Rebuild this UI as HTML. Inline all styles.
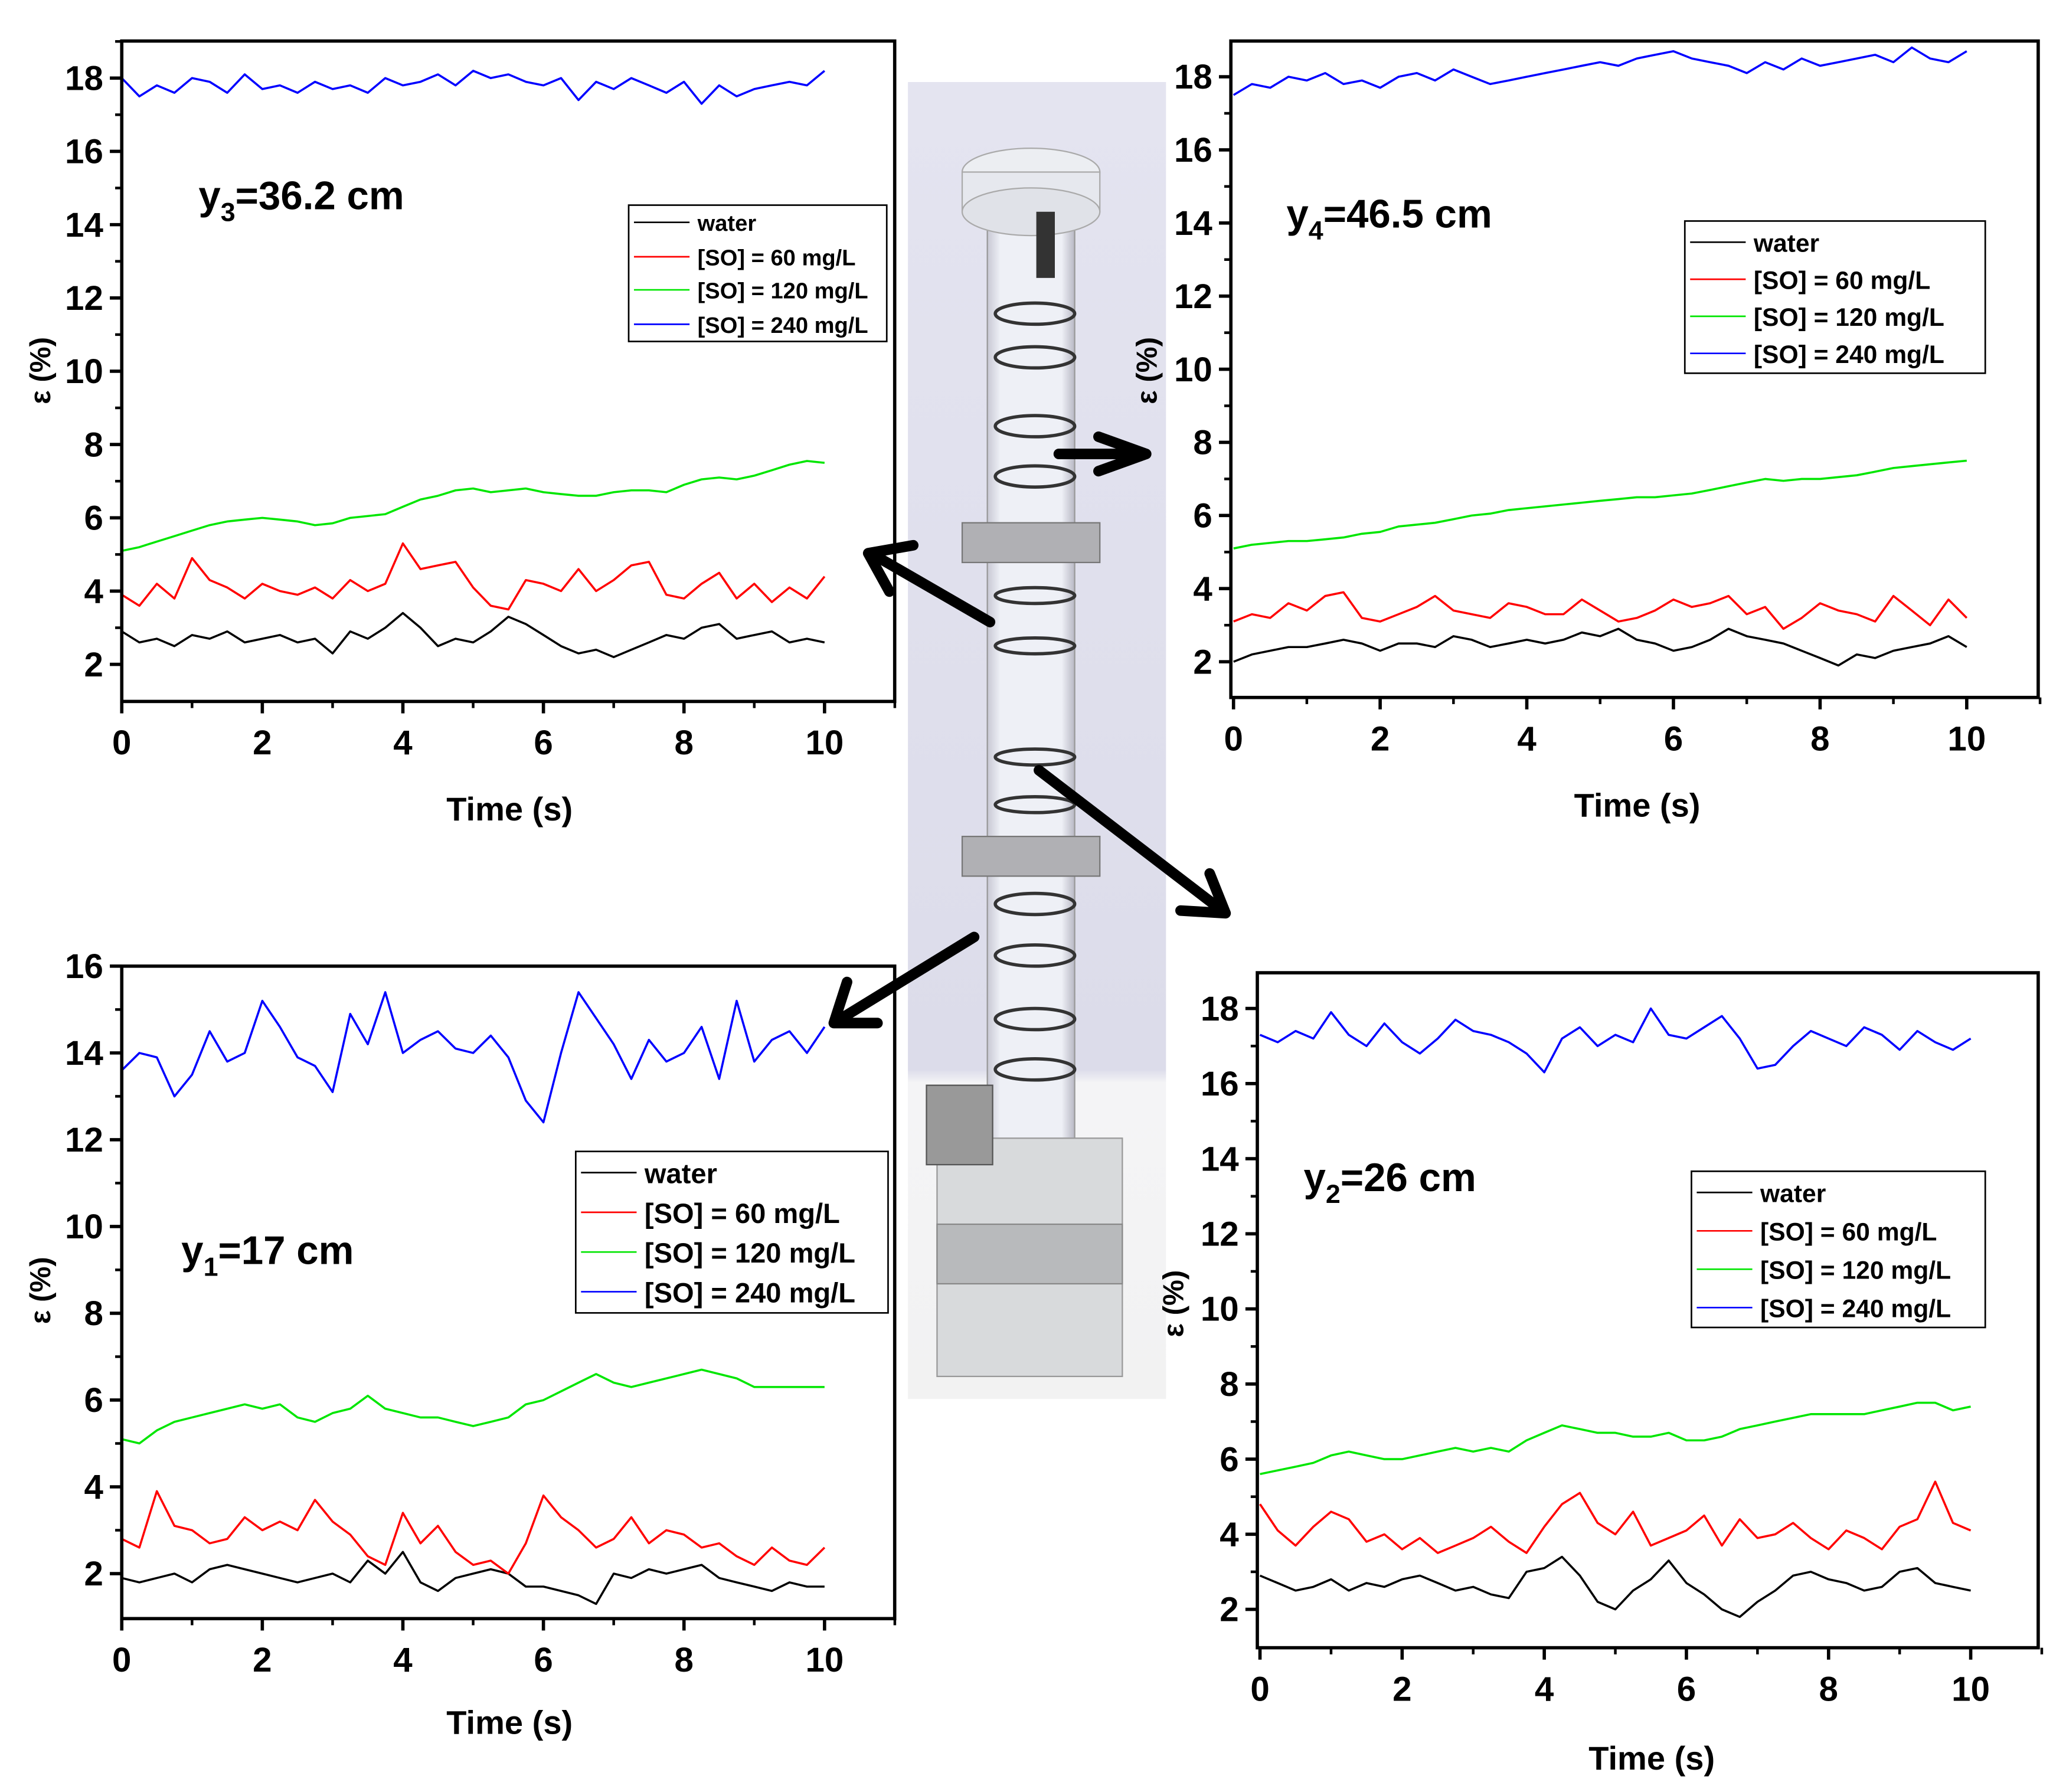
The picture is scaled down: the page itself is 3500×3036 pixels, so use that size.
<!DOCTYPE html>
<html><head><meta charset="utf-8"><style>
html,body{margin:0;padding:0;background:#fff;}
svg{display:block;font-family:"Liberation Sans",sans-serif;}
</style></head><body>
<svg id="fig" width="3500" height="3036" viewBox="0 0 1561 1354" preserveAspectRatio="none" xmlns="http://www.w3.org/2000/svg">
<defs>
<linearGradient id="bg" x1="0" y1="0" x2="0" y2="1"><stop offset="0" stop-color="#e4e4f0"/><stop offset="0.75" stop-color="#dcdcea"/><stop offset="0.76" stop-color="#f4f4f6"/><stop offset="1" stop-color="#f2f2f2"/></linearGradient>
<linearGradient id="tube" x1="0" y1="0" x2="1" y2="0"><stop offset="0" stop-color="#c8c8d4"/><stop offset="0.15" stop-color="#eef0f6"/><stop offset="0.85" stop-color="#eef0f6"/><stop offset="1" stop-color="#b8b8c4"/></linearGradient>
</defs>
<g id="photo">
<rect x="686" y="62" width="195" height="995" fill="url(#bg)"/>
<rect x="746" y="170" width="66" height="720" fill="url(#tube)" stroke="#999" stroke-width="1"/>
<ellipse cx="779" cy="130" rx="52" ry="18" fill="#eceef2" stroke="#aaa"/>
<rect x="727" y="130" width="104" height="30" fill="#e6e8ee" stroke="#aaa"/>
<ellipse cx="779" cy="160" rx="52" ry="18" fill="#e0e2e8" stroke="#aaa"/>
<rect x="783" y="160" width="14" height="50" fill="#333"/>
<rect x="727" y="395" width="104" height="30" fill="#b0b0b4" stroke="#777"/>
<rect x="727" y="632" width="104" height="30" fill="#b0b0b4" stroke="#777"/>
<g fill="none" stroke="#333" stroke-width="2.5">
<ellipse cx="782" cy="237" rx="30" ry="8"/><ellipse cx="782" cy="270" rx="30" ry="8"/><ellipse cx="782" cy="322" rx="30" ry="8"/><ellipse cx="782" cy="360" rx="30" ry="8"/>
<ellipse cx="782" cy="450" rx="30" ry="6"/><ellipse cx="782" cy="488" rx="30" ry="6"/><ellipse cx="782" cy="572" rx="30" ry="6"/><ellipse cx="782" cy="608" rx="30" ry="6"/>
<ellipse cx="782" cy="683" rx="30" ry="8"/><ellipse cx="782" cy="722" rx="30" ry="8"/><ellipse cx="782" cy="770" rx="30" ry="8"/><ellipse cx="782" cy="808" rx="30" ry="8"/><ellipse cx="782" cy="885" rx="36" ry="10"/>
</g>
<rect x="708" y="860" width="140" height="180" fill="#d8dadc" stroke="#999"/>
<rect x="708" y="925" width="140" height="45" fill="#b8babc" stroke="#888"/>
<rect x="700" y="820" width="50" height="60" fill="#999" stroke="#555"/>
</g>
<g id="arrows" fill="none" stroke="#000" stroke-width="8" stroke-linecap="round" stroke-linejoin="round">
<path d="M748 470 L658 418 M690 412 L656 418 L672 447"/>
<path d="M800 343 L866 343 M830 330 L866 343 L830 356"/>
<path d="M785 582 L926 690 M892 688 L926 690 L914 660"/>
<path d="M736 708 L630 773 M640 742 L630 773 L663 773"/>
</g>
<g id="charts"></g>
</svg>
<script>
const tl_water=[2.9,2.6,2.7,2.5,2.8,2.7,2.9,2.6,2.7,2.8,2.6,2.7,2.3,2.9,2.7,3.0,3.4,3.0,2.5,2.7,2.6,2.9,3.3,3.1,2.8,2.5,2.3,2.4,2.2,2.4,2.6,2.8,2.7,3.0,3.1,2.7,2.8,2.9,2.6,2.7,2.6];
const tl_60=[3.9,3.6,4.2,3.8,4.9,4.3,4.1,3.8,4.2,4.0,3.9,4.1,3.8,4.3,4.0,4.2,5.3,4.6,4.7,4.8,4.1,3.6,3.5,4.3,4.2,4.0,4.6,4.0,4.3,4.7,4.8,3.9,3.8,4.2,4.5,3.8,4.2,3.7,4.1,3.8,4.4];
const tl_120=[5.1,5.2,5.35,5.5,5.65,5.8,5.9,5.95,6.0,5.95,5.9,5.8,5.85,6.0,6.05,6.1,6.3,6.5,6.6,6.75,6.8,6.7,6.75,6.8,6.7,6.65,6.6,6.6,6.7,6.75,6.75,6.7,6.9,7.05,7.1,7.05,7.15,7.3,7.45,7.55,7.5];
const tl_240=[18.0,17.5,17.8,17.6,18.0,17.9,17.6,18.1,17.7,17.8,17.6,17.9,17.7,17.8,17.6,18.0,17.8,17.9,18.1,17.8,18.2,18.0,18.1,17.9,17.8,18.0,17.4,17.9,17.7,18.0,17.8,17.6,17.9,17.3,17.8,17.5,17.7,17.8,17.9,17.8,18.2];
const tr_water=[2.0,2.2,2.3,2.4,2.4,2.5,2.6,2.5,2.3,2.5,2.5,2.4,2.7,2.6,2.4,2.5,2.6,2.5,2.6,2.8,2.7,2.9,2.6,2.5,2.3,2.4,2.6,2.9,2.7,2.6,2.5,2.3,2.1,1.9,2.2,2.1,2.3,2.4,2.5,2.7,2.4];
const tr_60=[3.1,3.3,3.2,3.6,3.4,3.8,3.9,3.2,3.1,3.3,3.5,3.8,3.4,3.3,3.2,3.6,3.5,3.3,3.3,3.7,3.4,3.1,3.2,3.4,3.7,3.5,3.6,3.8,3.3,3.5,2.9,3.2,3.6,3.4,3.3,3.1,3.8,3.4,3.0,3.7,3.2];
const tr_120=[5.1,5.2,5.25,5.3,5.3,5.35,5.4,5.5,5.55,5.7,5.75,5.8,5.9,6.0,6.05,6.15,6.2,6.25,6.3,6.35,6.4,6.45,6.5,6.5,6.55,6.6,6.7,6.8,6.9,7.0,6.95,7.0,7.0,7.05,7.1,7.2,7.3,7.35,7.4,7.45,7.5];
const tr_240=[17.5,17.8,17.7,18.0,17.9,18.1,17.8,17.9,17.7,18.0,18.1,17.9,18.2,18.0,17.8,17.9,18.0,18.1,18.2,18.3,18.4,18.3,18.5,18.6,18.7,18.5,18.4,18.3,18.1,18.4,18.2,18.5,18.3,18.4,18.5,18.6,18.4,18.8,18.5,18.4,18.7];
const bl_water=[1.9,1.8,1.9,2.0,1.8,2.1,2.2,2.1,2.0,1.9,1.8,1.9,2.0,1.8,2.3,2.0,2.5,1.8,1.6,1.9,2.0,2.1,2.0,1.7,1.7,1.6,1.5,1.3,2.0,1.9,2.1,2.0,2.1,2.2,1.9,1.8,1.7,1.6,1.8,1.7,1.7];
const bl_60=[2.8,2.6,3.9,3.1,3.0,2.7,2.8,3.3,3.0,3.2,3.0,3.7,3.2,2.9,2.4,2.2,3.4,2.7,3.1,2.5,2.2,2.3,2.0,2.7,3.8,3.3,3.0,2.6,2.8,3.3,2.7,3.0,2.9,2.6,2.7,2.4,2.2,2.6,2.3,2.2,2.6];
const bl_120=[5.1,5.0,5.3,5.5,5.6,5.7,5.8,5.9,5.8,5.9,5.6,5.5,5.7,5.8,6.1,5.8,5.7,5.6,5.6,5.5,5.4,5.5,5.6,5.9,6.0,6.2,6.4,6.6,6.4,6.3,6.4,6.5,6.6,6.7,6.6,6.5,6.3,6.3,6.3,6.3,6.3];
const bl_240=[13.6,14.0,13.9,13.0,13.5,14.5,13.8,14.0,15.2,14.6,13.9,13.7,13.1,14.9,14.2,15.4,14.0,14.3,14.5,14.1,14.0,14.4,13.9,12.9,12.4,14.0,15.4,14.8,14.2,13.4,14.3,13.8,14.0,14.6,13.4,15.2,13.8,14.3,14.5,14.0,14.6];
const br_water=[2.9,2.7,2.5,2.6,2.8,2.5,2.7,2.6,2.8,2.9,2.7,2.5,2.6,2.4,2.3,3.0,3.1,3.4,2.9,2.2,2.0,2.5,2.8,3.3,2.7,2.4,2.0,1.8,2.2,2.5,2.9,3.0,2.8,2.7,2.5,2.6,3.0,3.1,2.7,2.6,2.5];
const br_60=[4.8,4.1,3.7,4.2,4.6,4.4,3.8,4.0,3.6,3.9,3.5,3.7,3.9,4.2,3.8,3.5,4.2,4.8,5.1,4.3,4.0,4.6,3.7,3.9,4.1,4.5,3.7,4.4,3.9,4.0,4.3,3.9,3.6,4.1,3.9,3.6,4.2,4.4,5.4,4.3,4.1];
const br_120=[5.6,5.7,5.8,5.9,6.1,6.2,6.1,6.0,6.0,6.1,6.2,6.3,6.2,6.3,6.2,6.5,6.7,6.9,6.8,6.7,6.7,6.6,6.6,6.7,6.5,6.5,6.6,6.8,6.9,7.0,7.1,7.2,7.2,7.2,7.2,7.3,7.4,7.5,7.5,7.3,7.4];
const br_240=[17.3,17.1,17.4,17.2,17.9,17.3,17.0,17.6,17.1,16.8,17.2,17.7,17.4,17.3,17.1,16.8,16.3,17.2,17.5,17.0,17.3,17.1,18.0,17.3,17.2,17.5,17.8,17.2,16.4,16.5,17.0,17.4,17.2,17.0,17.5,17.3,16.9,17.4,17.1,16.9,17.2];
const xTicks=[0,2,4,6,8,10];
const yTicksHi=[2,4,6,8,10,12,14,16,18];
const yTicksBL=[2,4,6,8,10,12,14,16];
const legendLabels=["water","[SO] = 60 mg/L","[SO] = 120 mg/L","[SO] = 240 mg/L"];
const colors=["#000","#ff0000","#00e600","#0000ff"];

const NS="http://www.w3.org/2000/svg";
const root=document.getElementById('charts');
function mk(tag,attrs,parent){const e=document.createElementNS(NS,tag);for(const k in attrs)e.setAttribute(k,attrs[k]);parent.appendChild(e);return e;}

const panels=[
 {id:'y3',box:[92,31,676,530],x0:92,x10:623,yA:18,pA:59,yB:2,pB:502,yt:yTicksHi,series:[tl_water,tl_60,tl_120,tl_240],
  title:['y','3','=36.2 cm'],tx:150,ty:158,tf:30,leg:[475,155,670,258],legY:[168,194,219,245],lf:17,xt:[385,620],yl:[30,280]},
 {id:'y4',box:[930,31,1540,527],x0:932,x10:1486,yA:18,pA:58,yB:2,pB:500,yt:yTicksHi,series:[tr_water,tr_60,tr_120,tr_240],
  title:['y','4','=46.5 cm'],tx:972,ty:172,tf:30,leg:[1273,167,1500,282],legY:[183,211,239,267],lf:19,xt:[1237,617],yl:[866,280]},
 {id:'y1',box:[92,730,676,1223],x0:92,x10:623,yA:16,pA:730,yB:2,pB:1189,yt:yTicksBL,series:[bl_water,bl_60,bl_120,bl_240],
  title:['y','1','=17 cm'],tx:137,ty:955,tf:30,leg:[435,870,671,992],legY:[886,916,946,976],lf:21,xt:[385,1310],yl:[30,975]},
 {id:'y2',box:[950,735,1540,1245],x0:952,x10:1489,yA:18,pA:762,yB:2,pB:1216,yt:yTicksHi,series:[br_water,br_60,br_120,br_240],
  title:['y','2','=26 cm'],tx:985,ty:900,tf:30,leg:[1278,885,1500,1003],legY:[901,930,959,988],lf:19,xt:[1248,1337],yl:[886,985]}
];
const seriesNames=['water','so-60','so-120','so-240'];
panels.forEach(p=>{
 const g=mk('g',{},root);
 
 
 const X=t=>p.x0+(p.x10-p.x0)*t/10;
 const Y=v=>p.pA+(v-p.yA)*(p.pB-p.pA)/(p.yB-p.yA);
 const [bx0,by0,bx1,by1]=p.box;
 // series
 p.series.forEach((arr,i)=>{
  const pts=arr.map((v,k)=>X(k*10/(arr.length-1)).toFixed(1)+','+Y(v).toFixed(1)).join(' ');
  const pl=mk('polyline',{points:pts,fill:'none',stroke:colors[i],'stroke-width':1.6,'stroke-linejoin':'round'},g);
  
  
 });
 const fr=mk('rect',{x:bx0,y:by0,width:bx1-bx0,height:by1-by0,fill:'none',stroke:'#000','stroke-width':2.5},g);
 
 
 xTicks.forEach(t=>{
  mk('line',{x1:X(t),x2:X(t),y1:by1,y2:by1+9,stroke:'#000','stroke-width':2.5},g);
  mk('line',{x1:X(t+1),x2:X(t+1),y1:by1,y2:by1+5,stroke:'#000','stroke-width':2},g);
  const tx=mk('text',{x:X(t),y:by1+40,'text-anchor':'middle','font-size':26,'font-weight':'bold'},g);
  tx.textContent=t;
  
  
 });
 p.yt.forEach(v=>{
  mk('line',{x1:bx0,x2:bx0-9,y1:Y(v),y2:Y(v),stroke:'#000','stroke-width':2.5},g);
  const m=Y(v+1); if(m>by0) mk('line',{x1:bx0,x2:bx0-5,y1:m,y2:m,stroke:'#000','stroke-width':2},g);
  const ty=mk('text',{x:bx0-14,y:Y(v)+9,'text-anchor':'end','font-size':26,'font-weight':'bold'},g);
  ty.textContent=v;
  
  
 });
 const xt=mk('text',{x:p.xt[0],y:p.xt[1],'text-anchor':'middle','font-size':25,'font-weight':'bold'},g);
 xt.textContent='Time (s)';
 
 
 const yl=mk('text',{x:0,y:0,'text-anchor':'middle','font-size':22,'font-weight':'bold',transform:`translate(${p.yl[0]+8},${p.yl[1]}) rotate(-90)`},g);
 yl.textContent='ε (%)';
 
 
 const tt=mk('text',{x:p.tx,y:p.ty,'font-size':p.tf,'font-weight':'bold'},g);
 
 
 const a=mk('tspan',{},tt);a.textContent=p.title[0];
 const b=mk('tspan',{'font-size':20,dy:9},tt);b.textContent=p.title[1];
 const c=mk('tspan',{dy:-9},tt);c.textContent=p.title[2];
 const [lx0,ly0,lx1,ly1]=p.leg;
 const lg=mk('g',{},g);
 
 
 mk('rect',{x:lx0,y:ly0,width:lx1-lx0,height:ly1-ly0,fill:'#fff',stroke:'#000','stroke-width':1.2},lg);
 legendLabels.forEach((lab,i)=>{
  const ly=p.legY[i];
  const e=mk('g',{},lg);
  
  
  mk('line',{x1:lx0+4,x2:lx0+46,y1:ly,y2:ly,stroke:colors[i],'stroke-width':1.2},e);
  const lt=mk('text',{x:lx0+52,y:ly+p.lf*0.38,'font-size':p.lf,'font-weight':'bold'},e);
  lt.textContent=lab;
 });
});
</script>
</body></html>
